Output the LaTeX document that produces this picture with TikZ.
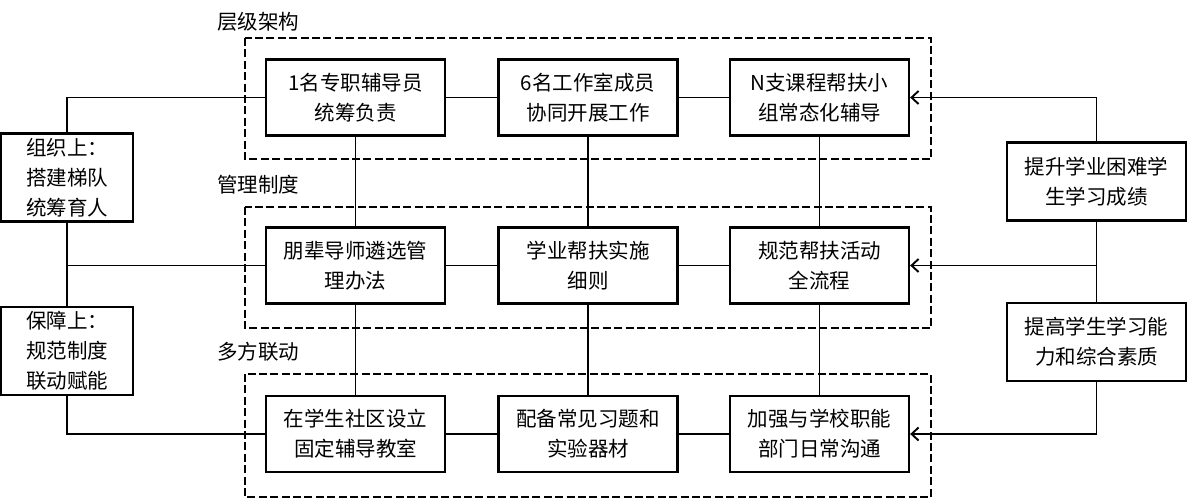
\documentclass[tikz,border=0pt]{standalone}
\usepackage{fontspec}
\setmainfont{Noto Sans CJK SC}
\usetikzlibrary{arrows.meta}
\tikzset{
  box/.style={draw, line width=2.3pt, align=center, inner sep=0pt, font=\fontsize{20.5pt}{30pt}\selectfont},
  midbox/.style={box, minimum width=179pt, minimum height=76pt},
  sidebox/.style={box, minimum width=132pt, minimum height=88pt},
  goalbox/.style={box, minimum width=179pt, minimum height=78pt},
  grp/.style={draw, line width=2.3pt, dash pattern=on 8pt off 3.4pt},
  grplabel/.style={anchor=west, inner sep=0pt, font=\fontsize{20.5pt}{24pt}\selectfont},
  conn/.style={line width=1.9pt},
  arr/.style={conn, -{Straight Barb[length=7pt,width=13pt,line width=1.9pt]}}
}
\begin{document}
\begin{tikzpicture}[x=1pt,y=-1pt]
\useasboundingbox (0,0) rectangle (1188,499);
% group frames
\draw[grp] (245,38) rectangle (931,159);
\draw[grp] (245,207) rectangle (931,328);
\draw[grp] (245,374) rectangle (931,497);
\node[grplabel] (g1) at (217,22) {层级架构};
\node[grplabel] (g2) at (217,185) {管理制度};
\node[grplabel] (g3) at (217,352) {多方联动};
% row 1
\node[midbox] (b11) at (355.5,97.5) {1名专职辅导员\\统筹负责};
\node[midbox] (b12) at (588,97.5) {6名工作室成员\\协同开展工作};
\node[midbox] (b13) at (819.5,97.5) {N支课程帮扶小\\组常态化辅导};
% row 2
\node[midbox] (b21) at (355.5,265.5) {朋辈导师遴选管\\理办法};
\node[midbox] (b22) at (588,265.5) {学业帮扶实施\\细则};
\node[midbox] (b23) at (819.5,265.5) {规范帮扶活动\\全流程};
% row 3
\node[midbox] (b31) at (355.5,434) {在学生社区设立\\固定辅导教室};
\node[midbox] (b32) at (588,434) {配备常见习题和\\实验器材};
\node[midbox] (b33) at (819.5,434) {加强与学校职能\\部门日常沟通};
% left
\node[sidebox] (L1) at (67,177.5) {组织上：\\搭建梯队\\统筹育人};
\node[sidebox] (L2) at (67,351) {保障上：\\规范制度\\联动赋能};
% right
\node[goalbox] (R1) at (1096.5,181.5) {提升学业困难学\\生学习成绩};
\node[goalbox] (R2) at (1096.5,342) {提高学生学习能\\力和综合素质};
% horizontal links in rows
\draw[conn] (b11) -- (b12);
\draw[conn] (b12) -- (b13);
\draw[conn] (b21) -- (b22);
\draw[conn] (b22) -- (b23);
\draw[conn] (b31) -- (b32);
\draw[conn] (b32) -- (b33);
% vertical links
\draw[conn] (b11) -- (b21);
\draw[conn] (b21) -- (b31);
\draw[conn] (b12) -- (b22);
\draw[conn] (b22) -- (b32);
\draw[conn] (b13) -- (b23);
\draw[conn] (b23) -- (b33);
% left side
\draw[conn] (L1.north) |- (b11.west);
\draw[conn] (L1.south) -- (L2.north);
\draw[conn] (L1.south |- b21.west) -- (b21.west);
\draw[conn] (L2.south) |- (b31.west);
% right side
\draw[arr] (R1.north) |- (b13.east);
\draw[conn] (R1.south) -- (R2.north);
\draw[arr] (R1.south |- b23.east) -- (b23.east);
\draw[arr] (R2.south) |- (b33.east);
\end{tikzpicture}
\end{document}
